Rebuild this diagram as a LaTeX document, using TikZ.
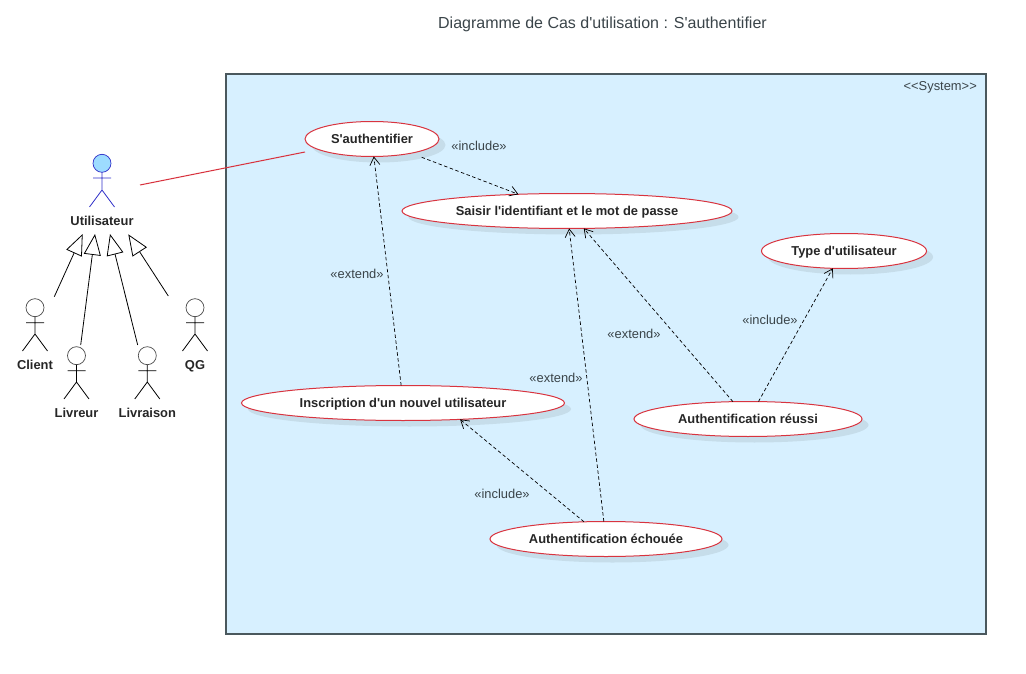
\documentclass[tikz,border=0pt]{standalone}
\usepackage{fontspec}
\setmainfont{Liberation Sans}[Ligatures=TeXOff]
\usetikzlibrary{shapes.geometric,arrows.meta,shadows,calc}
\definecolor{sysfill}{HTML}{D7F0FF}
\definecolor{sysline}{HTML}{4A585D}
\definecolor{ucred}{HTML}{D8343F}
\definecolor{ucshadow}{HTML}{C6DDEA}
\definecolor{textgray}{HTML}{3A4449}
\definecolor{headblue}{HTML}{9DDCFF}
\definecolor{actblue}{HTML}{2F2FC8}
\tikzset{
  x=1pt,y=-1pt,
  usecase/.style={ellipse,draw=ucred,fill=white,line width=1pt,inner sep=0pt,outer sep=0pt,
    font=\fontsize{12.9}{14}\selectfont\bfseries,text=black!85,text height=11.5pt,text depth=2.7pt,
    general shadow={shadow xshift=6.5pt,shadow yshift=-6pt,fill=ucshadow}},
  depline/.style={draw=black,line width=0.7pt,dash pattern=on 3.5pt off 2.5pt,-{Straight Barb[length=8pt,width=10pt,line width=0.7pt]}},
  annot/.style={font=\fontsize{12.9}{14}\selectfont,text=textgray,inner sep=0pt},
  actorname/.style={font=\fontsize{12.9}{14}\selectfont\bfseries,text=black!85,inner sep=0pt,text height=9.5pt,text depth=2.7pt},
  head/.style={circle,draw=black!70,fill=white,line width=0.7pt,minimum size=18pt,inner sep=0pt,outer sep=0pt},
  limb/.style={draw=black,line width=0.8pt},
  genline/.style={draw=black,line width=0.8pt,-{Triangle[open,fill=white,length=21pt,width=17pt,line width=0.8pt]}},
}
\begin{document}
\begin{tikzpicture}
\useasboundingbox (0,0) rectangle (1026,674);
\node[font=\fontsize{16}{18}\selectfont,text=textgray,inner sep=0pt] (title) at (602.5,24) {Diagramme de Cas d'utilisation : S'authentifier};

\node[draw=sysline,fill=sysfill,line width=1.3pt,minimum width=760pt,minimum height=560pt,inner sep=0pt,outer sep=0pt] (system) at (606,354) {};
\node[annot,anchor=east] (systag) at (977,87) {<<System>>};

\node[usecase,minimum width=134pt,minimum height=35pt] (sa) at (372,139) {S'authentifier};
\node[usecase,minimum width=330pt,minimum height=35pt] (saisir) at (567,211) {Saisir l'identifiant et le mot de passe};
\node[usecase,minimum width=165pt,minimum height=35pt] (type) at (844,251) {Type d'utilisateur};
\node[usecase,minimum width=323pt,minimum height=35pt] (insc) at (403,403) {Inscription d'un nouvel utilisateur};
\node[usecase,minimum width=228pt,minimum height=35pt] (reussi) at (748,419) {Authentification réussi};
\node[usecase,minimum width=232pt,minimum height=35pt] (echec) at (606,539) {Authentification échouée};

% actors
\node[head,draw=actblue,fill=headblue] (uh) at (102,163.3) {};
\draw[limb,draw=actblue] (uh.south) -- (102,190) (93,178) -- (111,178) (102,190) -- (89.5,207) (102,190) -- (114.5,207);
\node[actorname] (ul) at (102,221.7) {Utilisateur};

\node[head] (ch) at (35,307.7) {};
\draw[limb] (ch.south) -- (35,334) (26,322.7) -- (44,322.7) (35,334) -- (22.5,351) (35,334) -- (47.5,351);
\node[actorname] (cl) at (35,365.7) {Client};

\node[head] (lh) at (76.5,355.7) {};
\draw[limb] (lh.south) -- (76.5,382) (67.5,370.7) -- (85.5,370.7) (76.5,382) -- (64,399) (76.5,382) -- (89,399);
\node[actorname] (ll) at (76.5,413.7) {Livreur};

\node[head] (rh) at (147.3,355.7) {};
\draw[limb] (rh.south) -- (147.3,382) (138.3,370.7) -- (156.3,370.7) (147.3,382) -- (134.8,399) (147.3,382) -- (159.8,399);
\node[actorname] (rl) at (147.3,413.7) {Livraison};

\node[head] (qh) at (195,307.7) {};
\draw[limb] (qh.south) -- (195,334) (186,322.7) -- (204,322.7) (195,334) -- (182.5,351) (195,334) -- (207.5,351);
\node[actorname] (ql) at (195,365.7) {QG};

% free ends
\coordinate (a1) at (140,185);
\coordinate (a2) at (305,152);
\coordinate (g1s) at (54.3,296.7);
\coordinate (g1t) at (82.7,234);
\coordinate (g2s) at (80.7,345);
\coordinate (g2t) at (95,234);
\coordinate (g3s) at (137.7,345);
\coordinate (g3t) at (110,234);
\coordinate (g4s) at (168.3,296);
\coordinate (g4t) at (128.3,234.3);

\draw[draw=ucred,line width=1pt] (a1) -- (a2);
\draw[genline] (g1s) -- (g1t);
\draw[genline] (g2s) -- (g2t);
\draw[genline] (g3s) -- (g3t);
\draw[genline] (g4s) -- (g4t);

% dependencies
\draw[depline,shorten <=11.4pt] (sa.-20.1) -- (saisir.161.7);
\draw[depline] (insc.96.7) -- (sa.-84);
\draw[depline] (echec.142.8) -- (insc.-16.5);
\draw[depline] (echec.97) -- (saisir.-83.3);
\draw[depline] (reussi.131.6) -- (saisir.-46.6);
\draw[depline] (reussi.59.5) -- (type.-123);

\node[annot] (l1) at (479,145.5) {«include»};
\node[annot] (l2) at (357,273.5) {«extend»};
\node[annot] (l3) at (556,377.5) {«extend»};
\node[annot] (l4) at (634,333.5) {«extend»};
\node[annot] (l5) at (770,319.5) {«include»};
\node[annot] (l6) at (502,493.5) {«include»};
\end{tikzpicture}
\end{document}
